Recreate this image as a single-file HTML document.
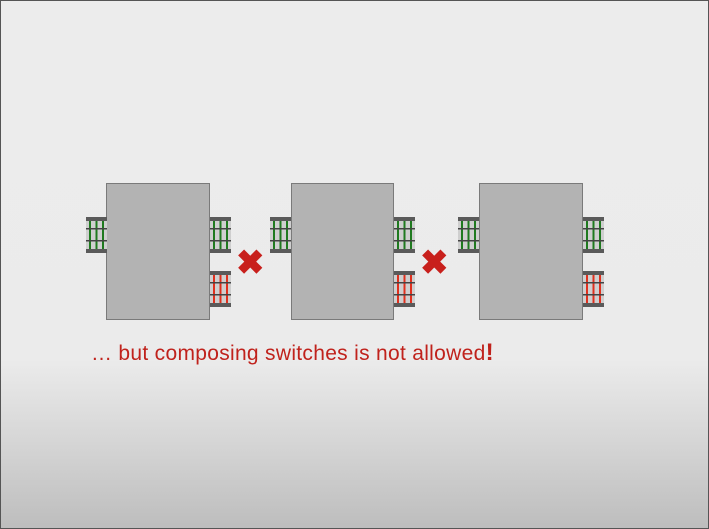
<!DOCTYPE html>
<html><head><meta charset="utf-8"><style>
html,body{margin:0;padding:0}
body{width:709px;height:529px;overflow:hidden;position:relative;font-family:"Liberation Sans",sans-serif;
background:linear-gradient(#ececec 0px,#ebebeb 360px,#d6d6d6 440px,#bdbdbd 529px);border:1px solid #555;box-sizing:border-box}
.box{position:absolute;background:#b3b3b3;border:1.5px solid #7a7a7a;box-sizing:border-box}
.port{position:absolute;width:21px;height:36px}
.x{position:absolute;color:#c8201c;font-size:34px;font-weight:bold;line-height:1}
.caption{position:absolute;left:90px;top:338px;color:#c0221c;font-size:21px;font-family:"Liberation Sans",sans-serif;letter-spacing:0.3px}
</style></head><body>
<div class="box" style="left:105px;top:182px;width:104px;height:137px"></div>
<div class="box" style="left:290px;top:182px;width:103px;height:137px"></div>
<div class="box" style="left:478px;top:182px;width:104px;height:137px"></div>
<div id="ports"></div>
<div class="x" style="left:235px;top:245px">✖</div>
<div class="x" style="left:419px;top:245px">✖</div>
<div class="caption">… but composing switches is not allowed<b style="font-size:24px">!</b></div>
<script>
const portX=[85,209,269,393,457,582];
const portY=[216,216,216,216,216,216];
const portC=['g','g','g','g','g','g'];
const redX=[209,393,582];
function port(x,y,c){
  const col=c==='g'?'#1f7a1f':'#e0301e';
  const d=document.createElement('div');
  d.className='port';d.style.left=x+'px';d.style.top=y+'px';
  
  
  d.innerHTML=`<svg width="21" height="36"><rect width="21" height="36" fill="#cfcfcf"/>
  <rect x="3" y="0" width="2" height="36" fill="${col}"/><rect x="9.5" y="0" width="2" height="36" fill="${col}"/><rect x="16" y="0" width="2" height="36" fill="${col}"/>
  <rect y="11" width="21" height="1.5" fill="#444"/><rect y="23" width="21" height="1.5" fill="#444"/>
  <rect y="0" width="21" height="4" fill="#5a5a5a"/><rect y="32" width="21" height="4" fill="#5a5a5a"/></svg>`;
  document.getElementById('ports').appendChild(d);
}
portX.forEach((x,i)=>port(x,portY[i],portC[i]));
redX.forEach(x=>port(x,270,'r'));
</script>
</body></html>
